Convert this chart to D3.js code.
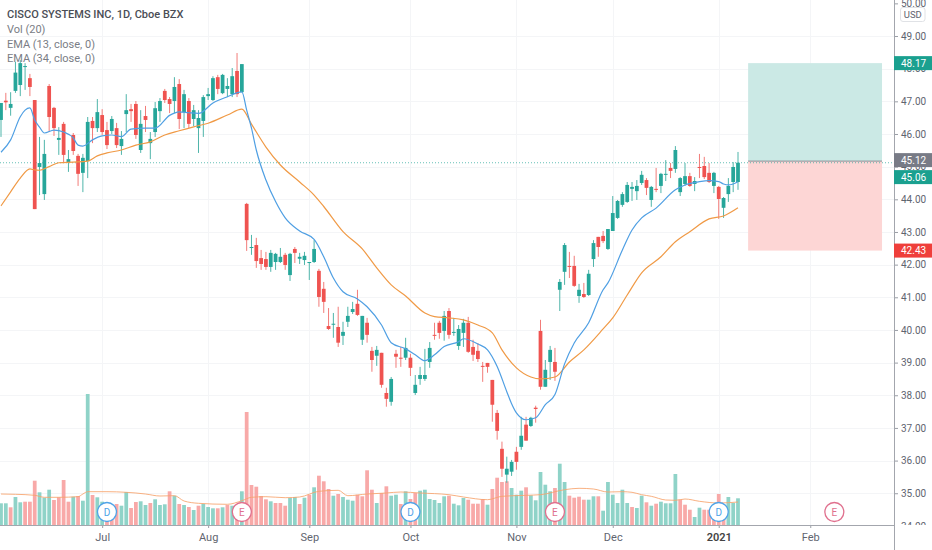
<!DOCTYPE html>
<html><head><meta charset="utf-8">
<script src="https://cdn.jsdelivr.net/npm/d3@7/dist/d3.min.js"></script>
<style>html,body{margin:0;padding:0;background:#fff}svg{display:block}text{font-family:Roboto,sans-serif}</style>
</head><body><svg id="c" width="932" height="550"></svg>
<script>
const opens=[46.43,47.02,46.80,47.32,47.50,48.05,47.71,47.04,44.99,44.16,
47.47,46.80,45.82,46.31,45.14,45.97,45.33,44.81,45.17,46.40,
46.18,46.58,46.12,46.09,46.18,45.63,46.61,46.76,46.92,45.51,
46.55,45.72,46.06,46.70,47.32,47.07,47.01,47.53,46.67,47.01,
46.46,46.18,46.40,47.16,47.04,47.74,47.25,47.38,47.22,47.93,
47.28,43.86,42.51,42.60,42.20,42.17,41.93,42.08,42.08,42.30,
41.68,42.48,42.18,42.14,42.05,42.08,41.81,41.26,40.12,40.16,
40.09,39.82,40.25,40.55,40.80,39.70,40.22,39.36,39.21,39.30,
38.07,37.80,39.27,39.15,39.15,39.15,38.07,38.50,38.50,39.02,
39.85,40.22,39.97,40.58,39.91,39.51,39.91,40.22,39.48,39.36,
38.90,38.99,38.47,37.46,36.36,35.57,35.66,36.27,36.42,37.10,
37.06,37.62,39.97,38.26,39.02,39.02,41.23,41.78,41.96,41.96,
41.04,41.10,41.07,42.17,42.85,42.88,42.48,43.03,43.43,43.83,
43.92,44.32,44.25,44.50,44.59,43.98,44.32,44.41,44.75,44.96,
44.93,44.22,44.47,44.71,44.47,44.99,45.02,44.81,44.41,44.38,
43.74,44.16,44.53,44.53];
const highs=[46.95,47.26,47.28,48.21,48.26,48.17,47.84,47.04,45.91,45.82,
47.53,46.83,46.21,46.37,45.51,46.03,45.39,45.39,46.52,46.52,
47.07,46.76,46.37,46.55,46.34,46.09,47.22,46.92,47.01,46.73,
46.86,46.06,46.98,47.10,47.38,47.13,47.74,47.68,47.35,47.10,
46.89,46.73,47.19,47.41,47.77,47.81,47.84,47.71,48.02,48.48,
48.14,43.89,42.91,42.82,42.45,42.39,42.45,42.36,42.51,42.36,
42.36,42.54,42.36,42.39,42.08,42.75,41.87,41.47,40.67,40.52,
40.71,40.25,40.71,40.86,41.23,40.43,40.37,39.48,39.51,39.30,
38.23,38.56,39.39,39.48,39.76,39.27,38.62,38.87,39.42,39.63,
40.22,40.28,40.58,40.67,40.37,40.15,40.34,40.40,39.70,39.60,
39.02,38.99,38.47,37.55,36.58,36.12,36.02,36.42,37.34,37.34,
37.34,37.68,40.31,39.08,39.51,39.45,41.56,42.66,42.39,42.27,
41.41,41.44,41.84,42.75,42.85,43.03,43.09,44.10,43.98,44.22,
44.53,44.53,44.59,44.87,44.65,44.41,44.96,44.81,45.20,45.11,
45.63,44.68,45.11,44.81,44.68,45.39,45.30,45.11,44.84,44.41,
44.07,44.65,45.14,45.45];
const lows=[45.91,46.73,46.56,47.26,47.16,47.35,47.16,43.70,44.13,43.98,
46.06,45.94,45.36,45.11,44.84,45.36,44.41,44.22,44.65,45.72,
46.06,45.97,45.54,46.00,45.57,45.36,46.06,46.37,45.85,45.42,
46.06,45.23,45.91,46.37,46.95,46.64,46.64,46.15,46.18,46.18,
46.24,45.42,45.91,47.04,47.01,47.22,47.22,47.13,47.13,47.13,
47.28,42.42,42.30,41.90,41.84,41.84,41.78,41.84,42.05,41.84,
41.50,42.05,42.02,41.99,41.53,42.05,40.71,40.52,40.00,39.76,
39.48,39.54,40.09,40.49,40.43,39.54,39.61,38.72,38.90,38.23,
37.65,37.68,38.84,38.87,39.08,38.59,38.01,38.32,38.44,38.84,
39.70,39.73,39.67,39.73,39.82,39.39,39.48,39.30,39.05,39.02,
38.41,38.69,37.19,36.64,35.50,35.32,35.53,35.72,36.33,36.61,
37.03,37.16,38.17,38.26,38.47,38.44,40.58,41.38,41.59,41.32,
40.83,40.98,41.04,41.93,42.24,42.66,42.45,43.03,43.40,43.77,
43.89,43.95,43.98,44.44,44.13,43.77,44.22,44.19,44.56,44.65,
44.81,44.10,44.41,44.38,44.25,44.65,44.62,44.50,44.19,43.40,
43.43,43.92,44.22,44.29];
const closes=[46.95,46.97,46.92,47.88,48.17,48.08,47.44,43.70,45.11,45.39,
46.52,46.18,45.88,45.36,45.23,45.48,44.78,45.27,46.37,46.18,
46.67,46.06,45.66,46.46,45.66,45.85,46.73,46.70,45.97,46.31,
46.43,45.85,46.79,47.01,47.04,46.92,47.44,46.46,47.22,46.31,
46.73,46.49,47.13,47.22,47.71,47.38,47.81,47.47,47.77,47.22,
48.14,42.75,42.54,42.11,42.02,41.93,42.36,42.33,42.24,41.99,
42.33,42.36,42.24,42.27,42.08,42.48,41.01,40.86,40.03,40.19,
39.61,39.94,40.43,40.64,40.46,40.43,39.85,39.08,39.39,38.32,
37.89,38.50,39.18,39.12,39.45,38.84,38.32,38.62,38.62,39.45,
39.82,39.91,40.43,39.85,39.94,40.03,40.22,39.33,39.24,39.11,
38.87,38.87,37.71,36.91,35.75,35.75,35.96,35.96,36.76,36.61,
37.31,37.58,38.26,38.78,39.39,38.72,41.47,42.60,41.93,41.35,
41.23,41.01,41.72,42.66,42.54,42.72,43.09,43.58,43.95,44.16,
44.44,44.38,44.41,44.75,44.35,44.38,44.29,44.78,44.78,44.87,
45.51,44.65,44.71,44.41,44.56,44.96,44.68,44.53,44.81,44.01,
44.04,44.41,44.99,45.12];
const volumes=[21.7,21.7,17.7,28,22.7,23.3,23.3,44.3,32.7,27.3,
35.3,25,27.7,45,23.3,28.3,29,24.3,131,30,
27.7,23.3,20,20,21,19.3,33,17,23,23.7,
20,22,25.7,20,20.7,33.7,29.3,21,20,18,
15,19.3,21,18,16.7,16.7,17.7,20,19.3,20,
33.7,113,40,38.3,29,25.7,23.7,22,22,19.3,
27,28,21,27.3,30.3,37.7,49.3,43.7,36,29.3,
31,28,25.3,24.3,30.3,28.7,54.7,35.3,22,32,
38.7,29.3,30.3,21,33.7,26,32,34.3,35.3,26,
25,22,28.7,29.3,21.3,19.7,27,25.3,21.3,21.3,
26,20.3,36,47.3,43,43.7,37,30.3,34.3,37.7,
29.7,24.7,53,40.3,33.7,37,61.3,43,29.3,27.3,
28.3,25.3,25.3,28.7,28.7,14.3,43,30.3,22,35.3,
22,18,17,29.3,22.7,19.3,21.3,23.3,21.7,21.7,
51,25.3,20.3,15.3,8,17.3,15.3,15.3,17,31,
18.7,28,22,26.7];
const volumeUp="GGRGGRRRGGGRRRRGRGGRGGRRRGGRRGGRGGGRGRGRGRGGGRGRGRGRRRRRGRRRGGRGRGRRRGRGGGRRRRGRRGGRGRRGGGGGGRGGGRRRRGRRRRGGGRGGGGGRGGRRRRGGRGGGGGGRGGRGRGGGGRRRGGRRRRRGGG";
const volMaIdx=[0,3,7,9,12,16,17,18,22,26,30,33,36,38,41,47,50,52,55,59,62,66,70,72,76,80,83,87,93,96,101,104,109,112,117,120,123,126,129,131,133,135,138,140,142,145,149,153];
const volMa=[31,30.7,29.7,27.7,27.7,28.3,31,33.3,33.3,32.7,31,29,29.3,24,21.7,20.7,24.3,27.7,28.3,27.3,28,33.7,34.7,29.3,31,32,33,32,30.3,28,25.3,28.7,29.7,30.3,35.3,36.7,36,33,33.3,32.7,30.3,28.7,25,24.7,26,23.7,22,23];
const ema13Idx=[0,2,4,5,6,7,8,9,11,13,15,16,17,19,21,23,25,27,30,32,35,37,39,41,44,47,50,51,52,53,55,57,59,62,65,67,69,71,74,76,79,81,84,86,88,90,92,95,96,99,101,103,105,106,107,109,111,113,115,117,119,122,125,126,129,131,133,136,140,142,145,147,149,150,151,153];
const ema13=[45.44,45.82,46.53,46.73,46.80,46.43,46.21,46.03,46.12,46.06,45.88,45.66,45.63,45.82,45.94,45.97,45.92,46.15,46.18,46.18,46.57,46.68,46.65,46.63,46.95,47.14,47.29,46.73,46.18,45.51,44.59,43.93,43.43,43.03,42.77,42.24,41.59,41.17,40.95,40.71,40.15,39.61,39.42,39.24,39.06,39.24,39.49,39.64,39.73,39.57,39.39,38.88,38.11,37.74,37.46,37.25,37.31,37.71,38.02,38.96,39.60,40.22,41.23,41.44,42.45,43.06,43.43,43.73,44.29,44.44,44.54,44.57,44.54,44.47,44.44,44.54];
const ema34Idx=[0,2,4,6,7,8,10,12,15,18,20,22,25,28,31,34,37,40,43,47,50,52,55,58,62,65,67,71,75,78,81,84,88,90,93,96,99,102,104,107,110,112,115,118,121,125,127,130,133,137,140,143,147,150,153];
const ema34=[43.80,44.23,44.65,44.93,44.90,44.89,45.00,45.12,45.14,45.17,45.33,45.42,45.51,45.66,45.76,45.97,46.10,46.22,46.33,46.58,46.76,46.30,45.60,45.05,44.53,44.13,43.78,43.01,42.48,41.90,41.38,41.04,40.52,40.41,40.37,40.31,40.15,39.91,39.39,38.84,38.56,38.50,38.56,39.02,39.39,40.03,40.37,41.07,41.75,42.24,42.70,43.01,43.40,43.49,43.74];
const priceTicks=[34,35,36,37,38,39,40,41,42,43,44,45,46,47,48,49,50];
const timeTicks=[21,43,64,85,107,127,149,168];
const timeLabels=["Jul","Aug","Sep","Oct","Nov","Dec","2021","Feb"];
const badgeIdx=[22,50,85,115,149,173];
const badgeKinds=["D","E","D","E","D","E"];
const tradeSpan=[155.1,182.9];
const tradeLevels={target:48.17,entry:45.17,stop:42.43};
const lastPrice=45.12;
const labelTexts=["48.17","45.12","45.06","42.43"];
const labelPrices=[48.17,45.2,44.68,42.43];
const labelColors=["#1aa08f","#787b86","#1aa08f","#ef3f3b"];
const legendLines=["CISCO SYSTEMS INC, 1D, Cboe BZX","Vol (20)","EMA (13, close, 0)","EMA (34, close, 0)"];

const W=932,H=550,axisX=894,axisY=525;
const svg=d3.select("#c");
const x=d3.scaleLinear().domain([0,153]).range([1,738]);
const y=d3.scaleLinear().domain([34,50]).range([525.9,3.36]);
const v=d3.scaleLinear().domain([0,131]).range([axisY,394]);
const GREEN="#26a69a",RED="#ef5350";
const idx=d3.range(opens.length);
const barW=(x(1)-x(0))*0.78;

// grid
const grid=svg.append("g");
grid.selectAll("line.h").data(priceTicks.filter(p=>p<50&&p>34)).join("line").attr("x1",0).attr("x2",axisX)
  .attr("y1",d=>Math.round(y(d))+.5).attr("y2",d=>Math.round(y(d))+.5).attr("stroke","#f4f5f7");
grid.selectAll("line.v").data(timeTicks).join("line").attr("y1",0).attr("y2",axisY)
  .attr("x1",d=>Math.round(x(d))+.5).attr("x2",d=>Math.round(x(d))+.5).attr("stroke","#f4f5f7");

// trade box
svg.append("rect").attr("x",x(tradeSpan[0])).attr("width",x(tradeSpan[1])-x(tradeSpan[0]))
  .attr("y",y(tradeLevels.target)).attr("height",y(tradeLevels.entry)-y(tradeLevels.target)).attr("fill","#cbe9e5");
svg.append("rect").attr("x",x(tradeSpan[0])).attr("width",x(tradeSpan[1])-x(tradeSpan[0]))
  .attr("y",y(tradeLevels.entry)).attr("height",y(tradeLevels.stop)-y(tradeLevels.entry)).attr("fill","#fdd6d5");
svg.append("line").attr("x1",x(tradeSpan[0])).attr("x2",x(tradeSpan[1])).attr("y1",y(tradeLevels.entry)).attr("y2",y(tradeLevels.entry))
  .attr("stroke","#8a8d96").attr("stroke-width",1);

// volume
svg.append("g").selectAll("rect").data(idx).join("rect")
  .attr("x",i=>x(i)-barW/2).attr("width",barW).attr("y",i=>v(volumes[i])).attr("height",i=>axisY-v(volumes[i]))
  .attr("fill",i=>volumeUp[i]==="G"?"#8fd3c8":"#f8a9a8");
svg.append("path").attr("fill","none").attr("stroke","#f7a26b").attr("stroke-opacity",.85).attr("stroke-width",1)
  .attr("d",d3.line().x((d,k)=>x(volMaIdx[k])).y(d=>v(d)).curve(d3.curveMonotoneX)(volMa));

// last price line
svg.append("line").attr("x1",0).attr("x2",axisX).attr("y1",y(lastPrice)).attr("y2",y(lastPrice))
  .attr("stroke",GREEN).attr("stroke-opacity",.7).attr("stroke-dasharray","1 2");

// candles
const c=svg.append("g");
c.selectAll("line").data(idx).join("line").attr("x1",i=>x(i)).attr("x2",i=>x(i))
  .attr("y1",i=>y(highs[i])).attr("y2",i=>y(lows[i])).attr("stroke",i=>closes[i]>=opens[i]?"#4fb5aa":"#f27c79").attr("stroke-width",1);
c.selectAll("rect").data(idx).join("rect").attr("x",i=>x(i)-barW/2).attr("width",barW)
  .attr("y",i=>y(Math.max(opens[i],closes[i]))).attr("height",i=>Math.max(1,Math.abs(y(opens[i])-y(closes[i]))))
  .attr("fill",i=>closes[i]>=opens[i]?GREEN:RED);

// EMAs
svg.append("path").attr("fill","none").attr("stroke","#f09a46").attr("stroke-width",1.2)
  .attr("d",d3.line().x((d,k)=>x(ema34Idx[k])).y(d=>y(d)).curve(d3.curveMonotoneX)(ema34));
svg.append("path").attr("fill","none").attr("stroke","#4f9fe3").attr("stroke-width",1.2)
  .attr("d",d3.line().x((d,k)=>x(ema13Idx[k])).y(d=>y(d)).curve(d3.curveMonotoneX)(ema13));

// price axis (labels cut off at the time axis)
svg.append("clipPath").attr("id","pc").append("rect").attr("x",axisX).attr("y",0).attr("width",W-axisX).attr("height",axisY);
const ya=svg.append("g").attr("clip-path","url(#pc)").attr("transform",`translate(${axisX},0)`)
  .call(d3.axisRight(y).tickValues(priceTicks).tickFormat(d3.format(".2f")).tickSize(4).tickPadding(3));
ya.select(".domain").remove();
ya.selectAll(".tick line").attr("stroke","#9a9ea6");
ya.selectAll("text").attr("fill","#5f6570").attr("font-size",10);
ya.attr("clip-path",null);
ya.selectAll(".tick").filter(d=>d===34).select("text").attr("clip-path",null);

// time axis
const ta=svg.append("g").attr("transform",`translate(0,${axisY})`)
  .call(d3.axisBottom(x).tickValues(timeTicks).tickFormat((d,k)=>timeLabels[k]).tickSize(3).tickPadding(5));
ta.select(".domain").remove();
ta.selectAll(".tick line").attr("stroke","#9a9ea6");
ta.selectAll("text").attr("fill",(d,k)=>timeLabels[k]==="2021"?"#444":"#5f6570").attr("font-size",11)
  .attr("font-weight",(d,k)=>timeLabels[k]==="2021"?600:400);

// cover below time axis for the clipped lowest price label
svg.append("rect").attr("x",axisX+1).attr("y",axisY).attr("width",W-axisX).attr("height",H-axisY).attr("fill","#fff");
svg.append("line").attr("x1",0).attr("x2",axisX).attr("y1",axisY+.5).attr("y2",axisY+.5).attr("stroke","#a3a6ad");
svg.append("line").attr("x1",axisX+.5).attr("x2",axisX+.5).attr("y1",0).attr("y2",H).attr("stroke","#a3a6ad");

// badges
const b=svg.append("g").selectAll("g").data(badgeIdx).join("g").attr("transform",d=>`translate(${x(d)},512)`);
b.append("circle").attr("r",9.5).attr("fill","#fff").attr("stroke",(d,k)=>badgeKinds[k]==="D"?"#4fa3e8":"#e0708e").attr("stroke-width",1.3);
b.append("text").attr("text-anchor","middle").attr("dy","0.36em").attr("font-size",10)
  .attr("fill",(d,k)=>badgeKinds[k]==="D"?"#4fa3e8":"#e0708e").text((d,k)=>badgeKinds[k]);

// price labels
const l=svg.append("g").selectAll("g").data(labelTexts).join("g").attr("transform",(d,k)=>`translate(${axisX},${y(labelPrices[k])})`);
l.append("rect").attr("x",0).attr("y",-7).attr("width",W-axisX).attr("height",14).attr("fill",(d,k)=>labelColors[k]);
l.append("text").attr("x",7).attr("dy","0.36em").attr("font-size",10).attr("fill","#fff").text(d=>d);

// currency
svg.append("rect").attr("x",900.5).attr("y",7.5).attr("width",24.5).attr("height",14).attr("rx",2.5).attr("fill","#fff").attr("stroke","#e0e2e6");
svg.append("text").attr("x",912.8).attr("y",14.6).attr("dy","0.36em").attr("text-anchor","middle").attr("font-size",9.5).attr("fill","#5f6570").text("USD");

// legend
svg.append("g").selectAll("text").data(legendLines).join("text").attr("x",7).attr("y",(d,k)=>[14,29,44,58][k]).attr("dy","0.36em")
  .attr("font-size",(d,k)=>k?11:11).attr("font-weight",(d,k)=>k?400:500).attr("fill",(d,k)=>k?"#7a7d85":"#4a4d55").text(d=>d);
</script></body></html>
